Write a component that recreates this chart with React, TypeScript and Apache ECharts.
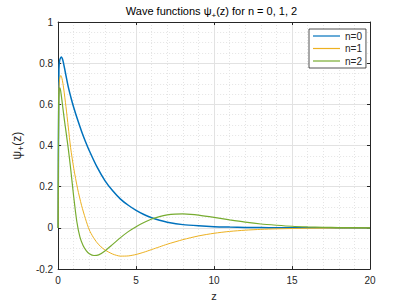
import React, { useEffect, useRef } from "react";
import * as echarts from "echarts";

const z0 = [0, 0.05, 0.1, 0.2, 0.3, 0.45, 0.65, 0.85, 1.0, 1.25, 1.5, 1.75, 2.0, 2.5, 3.0, 3.5, 4.0, 4.5, 5.0, 5.5, 6.0, 6.5, 7.0, 8.0, 9.0, 10, 11, 12, 13, 14, 16, 18, 20];
const psi0 = [0, 0.77, 0.815, 0.83, 0.815, 0.76, 0.685, 0.625, 0.585, 0.525, 0.47, 0.42, 0.375, 0.295, 0.23, 0.18, 0.14, 0.11, 0.085, 0.065, 0.049, 0.037, 0.028, 0.016, 0.01, 0.006, 0.004, 0.0025, 0.0015, 0.001, 0.0005, 0.0002, 0.0001];

const z1 = [0, 0.05, 0.1, 0.17, 0.25, 0.35, 0.5, 0.65, 0.8, 1.0, 1.25, 1.5, 1.75, 2.0, 2.25, 2.5, 2.75, 3.0, 3.5, 4.0, 4.5, 5.0, 5.5, 6.0, 6.5, 7.0, 8.0, 9.0, 10, 11, 12, 13, 14, 16, 18, 20];
const psi1 = [0, 0.67, 0.725, 0.74, 0.725, 0.68, 0.59, 0.49, 0.39, 0.29, 0.19, 0.11, 0.045, -0.01, -0.045, -0.072, -0.092, -0.107, -0.127, -0.137, -0.136, -0.129, -0.118, -0.105, -0.092, -0.079, -0.057, -0.039, -0.026, -0.017, -0.011, -0.007, -0.0045, -0.0017, -0.0006, -0.0002];

const z2 = [0, 0.03, 0.07, 0.12, 0.2, 0.3, 0.4, 0.5, 0.65, 0.8, 1.0, 1.2, 1.4, 1.6, 1.8, 2.0, 2.3, 2.6, 3.0, 3.5, 4.0, 4.5, 5.0, 5.5, 6.0, 6.5, 7.0, 7.5, 8.0, 8.5, 9.0, 10, 11, 12, 13, 14, 15, 16, 17, 18, 20];
const psi2 = [0, 0.6, 0.675, 0.68, 0.645, 0.585, 0.525, 0.47, 0.385, 0.29, 0.15, 0.03, -0.045, -0.085, -0.11, -0.125, -0.134, -0.131, -0.112, -0.08, -0.047, -0.018, 0.006, 0.026, 0.043, 0.055, 0.063, 0.067, 0.068, 0.066, 0.062, 0.051, 0.039, 0.028, 0.019, 0.013, 0.008, 0.005, 0.003, 0.0018, 0.0006];

const seriesNames = ["n=0", "n=1", "n=2"];
const seriesColors = ["#0072BD", "#EDB120", "#77AC30"];
const seriesWidths = [1.5, 1, 1.2];
const xTicks = { min: 0, max: 20, interval: 5 };
const yTicks = { min: -0.2, max: 1, interval: 0.2 };

const FONT = "'Liberation Sans', Arial, Helvetica, sans-serif";
const AXIS = "#262626";

function pairs(xs: number[], ys: number[]) {
  return xs.map((x, i) => [x, ys[i]]);
}

export default function App() {
  const ref = useRef<HTMLDivElement>(null);
  useEffect(() => {
    if (!ref.current) return;
    const chart = echarts.init(ref.current, undefined, { renderer: "svg" });
    const titleRich = {
      sub: { fontSize: 8, fontFamily: FONT, color: "#000", verticalAlign: "bottom", lineHeight: 16 },
    };
    const nameRich = {
      sub: { fontSize: 9, fontFamily: FONT, color: AXIS, verticalAlign: "bottom", lineHeight: 17 },
    };
    const axisCommon = {
      axisLine: { show: true, onZero: false, lineStyle: { color: AXIS, width: 1 } },
      axisTick: { show: true, inside: true, length: 3, lineStyle: { color: AXIS } },
    };
    const datasets = [pairs(z0, psi0), pairs(z1, psi1), pairs(z2, psi2)];
    chart.setOption({
      animation: false,
      backgroundColor: "#fff",
      grid: { left: 53, right: 39, top: 22, bottom: 34, containLabel: false },
      graphic: [
        {
          type: "text",
          x: 211.5,
          y: 11,
          style: {
            text: "Wave functions ψ{sub|+}(z) for n = 0, 1, 2",
            fontSize: 11,
            fontFamily: FONT,
            fill: "#000",
            align: "center",
            verticalAlign: "middle",
            lineHeight: 16,
            rich: titleRich,
          },
        },
      ],
      legend: {
        orient: "vertical",
        left: 309,
        top: 29,
        icon: "rect",
        itemWidth: 27,
        itemHeight: 1.2,
        itemGap: 0.5,
        padding: [1, 4, 1, 4],
        borderColor: AXIS,
        borderWidth: 0.8,
        backgroundColor: "#fff",
        textStyle: { fontSize: 10, fontFamily: FONT, color: AXIS, lineHeight: 12 },
        data: seriesNames,
      },
      xAxis: [
        {
          type: "value",
          position: "bottom",
          ...xTicks,
          ...axisCommon,
          axisLabel: { color: AXIS, fontSize: 10, fontFamily: FONT, margin: 6 },
          splitLine: { show: true, lineStyle: { color: "#e2e2e2", width: 1 } },
          minorTick: { show: false, splitNumber: 5 },
          minorSplitLine: { show: true, lineStyle: { color: "#e4e4e4", width: 1, type: [1, 2] } },
          name: "z",
          nameLocation: "middle",
          nameGap: 20,
          nameTextStyle: { fontSize: 11, fontFamily: FONT, color: AXIS },
        },
        {
          type: "value",
          position: "top",
          ...xTicks,
          ...axisCommon,
          axisLabel: { show: false },
          splitLine: { show: false },
        },
      ],
      yAxis: [
        {
          type: "value",
          position: "left",
          ...yTicks,
          ...axisCommon,
          axisLabel: { color: AXIS, fontSize: 10, fontFamily: FONT, margin: 5 },
          splitLine: { show: true, lineStyle: { color: "#e2e2e2", width: 1 } },
          minorTick: { show: false, splitNumber: 4 },
          minorSplitLine: { show: true, lineStyle: { color: "#e4e4e4", width: 1, type: [1, 2] } },
          name: "ψ{sub|+}(z)",
          nameLocation: "middle",
          nameGap: 26,
          nameTextStyle: { fontSize: 12, fontFamily: FONT, color: AXIS, lineHeight: 17, rich: nameRich },
        },
        {
          type: "value",
          position: "right",
          ...yTicks,
          ...axisCommon,
          axisLabel: { show: false },
          splitLine: { show: false },
        },
      ],
      series: datasets.map((d, i) => ({
        name: seriesNames[i],
        type: "line",
        data: d,
        showSymbol: false,
        symbol: "none",
        smooth: 0.25,
        color: seriesColors[i],
        lineStyle: { color: seriesColors[i], width: seriesWidths[i] },
        z: 3 + i,
      })),
    });
    return () => chart.dispose();
  }, []);
  return <div ref={ref} style={{ position: "absolute", left: 0, top: 0, width: 409, height: 306 }} />;
}
